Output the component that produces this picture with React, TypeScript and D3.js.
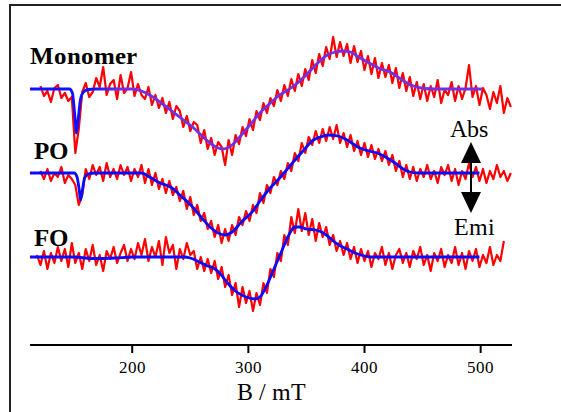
import * as d3 from 'd3';
import React, { useEffect, useState } from 'react';

// red: measured spectra, sampled every 3 mT from a start field
const monomerStart = 121;
const monomerRaw = [
  3, -7, -2, -13, 1, 4, -9, -4, -12, -8,
  -64, -40, -3, 6, -8, -3, 11, 2, 22, -6,
  5, 9, -10, 14, -4, 1, 17, -7, 5, -6,
  -10, 2, -16, -6, -19, -9, -24, -13, -30, -17,
  -22, -38, -27, -42, -33, -36, -54, -41, -60, -49,
  -66, -53, -58, -76, -51, -66, -46, -55, -38, -47,
  -30, -41, -22, -31, -14, -24, -9, -17, -1, -12,
  4, -7, 10, -2, 15, 3, 20, 9, 29, 16,
  35, 23, 42, 30, 52, 32, 47, 33, 45, 26,
  43, 27, 38, 19, 33, 15, 31, 11, 26, 12,
  24, 6, 21, 1, 16, -2, 12, -7, 7, -10,
  5, -12, 3, -8, 9, -14, -1, -6, 7, -12,
  3, -10, 1, 24, -8, 3, -16, 1, -6, -20,
  -3, -14, 3, -24, -9, -18,
];

const poStart = 121;
const poRaw = [
  2, -6, 4, -8, 0, -4, 6, -10, -2, -6,
  -12, -32, -22, 4, -6, 8, -2, 6, -8, 10,
  -4, 4, -6, 8, -2, 6, -8, 4, -4, 8,
  -10, 4, -12, 0, -16, -6, -20, -8, -22, -14,
  -28, -18, -36, -24, -42, -32, -48, -40, -56, -48,
  -64, -52, -70, -56, -68, -52, -62, -44, -52, -38,
  -48, -32, -40, -20, -30, -12, -20, -4, -12, 2,
  -6, 10, 2, 20, 12, 30, 20, 36, 28, 42,
  30, 44, 32, 46, 34, 48, 30, 40, 26, 38,
  22, 32, 18, 30, 16, 28, 14, 24, 12, 22,
  8, 18, 2, 12, -4, 8, -6, 6, -8, 4,
  -4, 8, -6, 2, -10, 6, -2, 8, -8, 4,
  -12, 2, -6, 10, -4, 6, -8, 4, -10, 2,
  -6, 8, -4, 2, -8, 0,
];

const foStart = 118;
const foRaw = [
  2, -8, 6, -12, 4, -6, 10, -4, 8, -10,
  14, -6, 4, -12, 8, -4, 12, -8, 2, -14,
  6, -2, 10, -6, 4, 12, -4, 8, -2, 14,
  2, 18, -4, 10, 0, 16, -8, 20, 4, 12,
  -12, 8, -2, 14, 2, 6, -12, 0, -14, -2,
  -16, -4, -22, -10, -30, -18, -38, -26, -50, -30,
  -46, -34, -54, -36, -48, -26, -36, -12, -20, 4,
  -4, 22, 12, 40, 24, 48, 26, 44, 22, 38,
  16, 34, 20, 30, 12, 22, 6, 16, 2, 14,
  -2, 10, -6, 8, -4, 6, -10, 4, -2, 10,
  -8, 4, -12, 2, 8, -6, 4, -10, 6, -2,
  10, -8, 2, -14, 4, -4, 8, -10, 2, -6,
  10, -8, 4, -12, 6, -4, 8, -10, 2, -6,
  10, -8, 2, -4, 16,
];

const rawStep = 3;

// blue: simulated spectra, [B (mT), intensity]
const monomerFit: [number, number][] = [
  [112, 0], [146, 0], [148.5, -4], [150.5, -25], [152, -44], [153.5, -30], [155.5, -10],
  [158, -3], [162, -0.5], [168, 0], [200, 0], [208, -2], [215, -6], [225, -14], [233, -21],
  [243, -30], [252, -38], [264, -51], [272, -58], [278, -60], [286, -56], [294, -46],
  [302, -35], [310, -24], [318, -15], [327, -6], [338, 2], [348, 12], [358, 24], [368, 34],
  [375, 37], [381, 38], [388, 37], [395, 32], [404, 26], [412, 21], [422, 17], [430, 11],
  [438, 5], [445, 2], [452, 0.5], [460, 0], [501, 0],
];

const poFit: [number, number][] = [
  [112, 0], [150, 0], [152.5, -4], [154.5, -18], [155.5, -27], [157, -18], [159, -5],
  [162, -1], [168, 0], [208, 0], [215, -4], [224, -10], [233, -14], [242, -23], [252, -34],
  [260, -45], [267, -54], [274, -60], [280, -62], [286, -59], [294, -49], [304, -38],
  [310, -28], [318, -16], [327, -5], [338, 10], [347, 22], [356, 33], [362, 36], [369, 38],
  [377, 37], [385, 33], [396, 25], [404, 22], [411, 20], [418, 16], [425, 11], [432, 5],
  [439, 1], [446, 0], [499, 0],
];

const foFit: [number, number][] = [
  [112, 0], [150, 0], [165, -1.5], [185, -1], [200, 0], [245, 0], [250, -1], [258, -5],
  [265, -9], [270, -11], [276, -17], [282, -26], [290, -35], [298, -40], [306, -42],
  [310, -40], [316, -28], [322, -12], [328, 4], [334, 20], [340, 30], [344, 30], [350, 28],
  [358, 27], [366, 23], [372, 17], [378, 12], [385, 8], [392, 4], [400, 1], [405, 0], [499, 0],
];

const seriesNames = ['Monomer', 'PO', 'FO'];
const seriesOffsets = [0, -84, -168];
const xTicks = [200, 300, 400, 500];

const W = 561;
const H = 412;
const FONT = "ChartSerif, 'Liberation Serif', Times, serif";
const fontCss = `
@font-face { font-family: 'ChartSerif'; src: local('Liberation Serif'), local('LiberationSerif'); font-weight: 400; }
@font-face { font-family: 'ChartSerif'; src: local('Liberation Serif Bold'), local('LiberationSerif-Bold'); font-weight: 700; }
.lbl { font-family: ${FONT}; }
`;

function App() {
  const [, setReady] = useState(0);

  useEffect(() => {
    const fonts = (document as any).fonts;
    if (fonts && fonts.load) {
      Promise.all([fonts.load("24px ChartSerif"), fonts.load("bold 25px ChartSerif")])
        .then(() => setReady(r => r + 1))
        .catch(() => {});
    }
  }, []);

  const x = d3.scaleLinear().domain([112, 527]).range([30, 512]);
  const y = d3.scaleLinear().domain([-257, 85]).range([346, 4]);

  const toPts = (start: number, vals: number[]) =>
    vals.map((v, i) => [start + i * rawStep, v] as [number, number]);
  const raws = [toPts(monomerStart, monomerRaw), toPts(poStart, poRaw), toPts(foStart, foRaw)];
  const fits = [monomerFit, poFit, foFit];

  const lineFor = (off: number, curve: d3.CurveFactory) =>
    d3.line<[number, number]>()
      .x(d => x(d[0]))
      .y(d => y(d[1] + off))
      .curve(curve);

  const labelY = [64, 159, 246];

  return (
    <svg width={W} height={H} style={{ position: 'absolute', left: 0, top: 0, background: '#fff' }}>
      <style>{fontCss}</style>
      <defs>
        <linearGradient id="monoGrad" gradientUnits="userSpaceOnUse" x1={x(165)} x2={x(190)} y1={0} y2={0}>
          <stop offset="0" stopColor="#1010ff" />
          <stop offset="1" stopColor="#7030e8" />
        </linearGradient>
      </defs>
      <rect x={10} y={5} width={W} height={H} fill="none" stroke="#222" strokeWidth={2} />

      {raws.map((pts, i) => (
        <path key={'r' + i} d={lineFor(seriesOffsets[i], d3.curveLinear)(pts) || ''}
          fill="none" stroke="#ff0000" strokeWidth={2.2} strokeLinejoin="round" />
      ))}
      {fits.map((pts, i) => (
        <path key={'f' + i} d={lineFor(seriesOffsets[i], d3.curveMonotoneX)(pts) || ''}
          fill="none" stroke={i === 0 ? 'url(#monoGrad)' : '#0a0aff'} strokeWidth={2.8} />
      ))}

      {seriesNames.map((n, i) => (
        <text key={n} className="lbl" x={i === 0 ? 30 : 34} y={labelY[i]} fontWeight="bold"
          fontSize={25} fill="#000">{n}</text>
      ))}

      {/* Abs / Emi arrow */}
      <text className="lbl" x={469} y={137} textAnchor="middle" fontSize={24}>Abs</text>
      <text className="lbl" x={474} y={235} textAnchor="middle" fontSize={24}>Emi</text>
      <polygon points="471,142 461,163 481,163" fill="#000" />
      <line x1={471} x2={471} y1={160} y2={195} stroke="#000" strokeWidth={2} />
      <polygon points="461,192 481,192 471,213" fill="#000" />

      {/* x axis */}
      <line x1={x(112)} x2={x(527)} y1={345} y2={345} stroke="#000" strokeWidth={2} />
      {xTicks.map(t => (
        <g key={t}>
          <line x1={x(t)} x2={x(t)} y1={345} y2={353} stroke="#000" strokeWidth={2} />
          <text className="lbl" x={x(t)} y={373} textAnchor="middle" fontSize={17}>{t}</text>
        </g>
      ))}
      <text className="lbl" x={x(320)} y={400} textAnchor="middle" fontSize={24}>B / mT</text>
    </svg>
  );
}

export default App;
